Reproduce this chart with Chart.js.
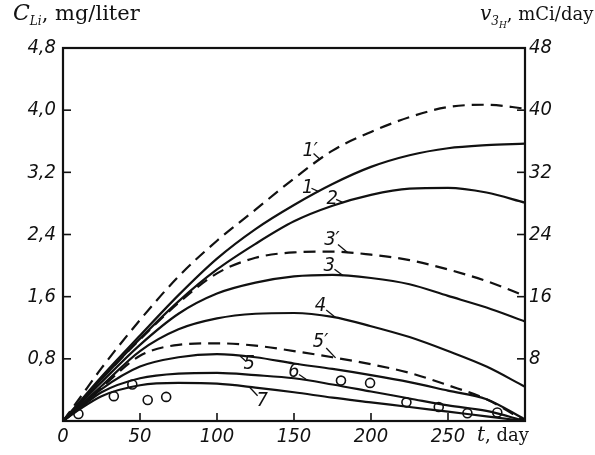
<!DOCTYPE html>
<html>
<head>
<meta charset="utf-8">
<script src="https://cdn.jsdelivr.net/npm/chart.js@4.4.1/dist/chart.umd.min.js"></script>
<style>
  body { margin: 0; background: #fff; }
  #wrap { position: relative; width: 595px; height: 455px; }
  .lbl { position: absolute; font-family: 'DejaVu Serif', 'Liberation Serif', serif; color: #111; white-space: nowrap; }
  .it { font-style: italic; }
  .sub { font-size: 12px; font-style: italic; position: relative; top: 5px; }
  .sub2 { font-size: 9px; position: relative; top: 3px; }
</style>
</head>
<body>
<div id="wrap">
  <canvas id="chart" width="595" height="455"></canvas>
  <div class="lbl" style="left:13px; top:0px; font-size:21px;"><span class="it" style="font-size:22px;">C</span><span class="sub">Li</span>, mg/liter</div>
  <div class="lbl" style="left:480px; top:1px; font-size:18px;"><span class="it" style="font-size:20px;">v</span><span class="sub">3<span class="sub2">H</span></span>, mCi/day</div>
  <div class="lbl" style="left:477px; top:422px; font-size:18px;"><span class="it" style="font-size:20px;">t</span>, day</div>
</div>
<script>
// time grid (days)
var days = [0, 10, 25, 50, 75, 100, 125, 150, 175, 200, 225, 250, 275, 300];

// C_Li, mg/liter for every curve
var curve1p = [0, 0.27, 0.68, 1.30, 1.86, 2.32, 2.72, 3.12, 3.48, 3.72, 3.91, 4.04, 4.07, 4.02];
var curve1  = [0, 0.23, 0.57, 1.10, 1.62, 2.09, 2.47, 2.78, 3.05, 3.27, 3.42, 3.51, 3.55, 3.57];
var curve2  = [0, 0.22, 0.54, 1.06, 1.54, 1.95, 2.28, 2.57, 2.77, 2.91, 2.99, 3.00, 2.94, 2.81];
var curve3p = [0, 0.22, 0.54, 1.05, 1.52, 1.90, 2.10, 2.17, 2.18, 2.14, 2.07, 1.95, 1.80, 1.61];
var curve3  = [0, 0.20, 0.50, 0.98, 1.38, 1.64, 1.78, 1.86, 1.88, 1.84, 1.76, 1.61, 1.46, 1.28];
var curve4  = [0, 0.18, 0.45, 0.90, 1.18, 1.32, 1.38, 1.39, 1.34, 1.22, 1.08, 0.90, 0.70, 0.44];
var curve5p = [0, 0.17, 0.43, 0.84, 0.98, 1.00, 0.97, 0.90, 0.82, 0.73, 0.62, 0.46, 0.28, 0.0];
var curve5  = [0, 0.16, 0.41, 0.70, 0.82, 0.86, 0.82, 0.74, 0.67, 0.59, 0.50, 0.39, 0.28, 0.02];
var curve6  = [0, 0.15, 0.37, 0.55, 0.61, 0.62, 0.59, 0.55, 0.47, 0.38, 0.29, 0.20, 0.13, 0.0];
var curve7  = [0, 0.14, 0.32, 0.46, 0.49, 0.48, 0.43, 0.37, 0.30, 0.24, 0.18, 0.12, 0.06, 0.0];

// measured points (open circles)
var obsDays   = [10, 33, 45, 55, 67, 180.5, 199.4, 223, 244, 262.6, 282];
var obsValues = [0.09, 0.32, 0.47, 0.27, 0.31, 0.52, 0.49, 0.24, 0.18, 0.10, 0.11];

// curve names and the day where each name points to its curve
var curveNames = ["1\u2032", "1", "2", "3\u2032", "3", "4", "5\u2032", "5", "6", "7"];
var labelDays  = [167, 166, 182, 185, 182, 177, 177, 115, 159, 121];

// axis ticks
var leftTicks  = [0, 0.8, 1.6, 2.4, 3.2, 4.0, 4.8];
var rightTicks = [0, 8, 16, 24, 32, 40, 48];
var dayTicks   = [0, 50, 100, 150, 200, 250, 300];

var curves = [curve1p, curve1, curve2, curve3p, curve3, curve4, curve5p, curve5, curve6, curve7];
var dashed = [true, false, false, true, false, false, true, false, false, false];

// text offset of each name from its curve point, and leader direction
var labelOffsets = [[-12, -11], [-13, -6], [-13, -6], [-18, -15], [-16, -12], [-17, -14], [-17, -18], [11, 10], [-16, -11], [15, 16]];

var fontFamily = "'Liberation Sans Narrow', 'DejaVu Sans Condensed', 'Liberation Sans', sans-serif";
var tickFont = { family: fontFamily, size: 20, style: 'italic' };

function toPoints(arr) {
  return arr.map(function(v, i) { return { x: days[i], y: v }; });
}

var datasets = [];
for (var i = 0; i < curves.length; i++) {
  datasets.push({
    label: curveNames[i],
    data: toPoints(curves[i]),
    borderColor: '#111',
    borderWidth: 2.2,
    borderDash: dashed[i] ? [12, 7] : [],
    pointRadius: 0,
    fill: false,
    cubicInterpolationMode: 'monotone'
  });
}
datasets.push({
  label: 'obs',
  type: 'scatter',
  data: obsDays.map(function(d, i) { return { x: d, y: obsValues[i] }; }),
  borderColor: '#111',
  backgroundColor: '#fff',
  borderWidth: 1.6,
  pointRadius: 4.5,
  showLine: false
});

// frame + inward tick marks
var framePlugin = {
  id: 'frame',
  afterDatasetsDraw: function(chart) {
    var ctx = chart.ctx;
    var a = chart.chartArea;
    ctx.save();
    ctx.strokeStyle = '#111';
    ctx.lineWidth = 2.2;
    ctx.strokeRect(a.left, a.top, a.right - a.left, a.bottom - a.top);
    ctx.lineWidth = 1.6;
    var len = 8;
    chart.scales.x.ticks.forEach(function(t) {
      if (t.value <= 0 || t.value >= 300) return;
      var px = chart.scales.x.getPixelForValue(t.value);
      ctx.beginPath(); ctx.moveTo(px, a.bottom); ctx.lineTo(px, a.bottom - len); ctx.stroke();
    });
    chart.scales.y.ticks.forEach(function(t) {
      if (t.value <= 0 || t.value >= 4.7) return;
      var py = chart.scales.y.getPixelForValue(t.value);
      ctx.beginPath(); ctx.moveTo(a.left, py); ctx.lineTo(a.left + len, py); ctx.stroke();
    });
    chart.scales.y1.ticks.forEach(function(t) {
      if (t.value <= 0 || t.value >= 47) return;
      var py = chart.scales.y1.getPixelForValue(t.value);
      ctx.beginPath(); ctx.moveTo(a.right, py); ctx.lineTo(a.right - len, py); ctx.stroke();
    });
    ctx.restore();
  }
};

// curve names with short leader strokes
var namesPlugin = {
  id: 'names',
  afterDatasetsDraw: function(chart) {
    var ctx = chart.ctx;
    var xs = chart.scales.x, ys = chart.scales.y;
    ctx.save();
    ctx.fillStyle = '#111';
    ctx.strokeStyle = '#111';
    ctx.lineWidth = 1.3;
    ctx.font = "italic 20px " + fontFamily;
    ctx.textAlign = 'center';
    ctx.textBaseline = 'middle';
    for (var i = 0; i < curveNames.length; i++) {
      var d = labelDays[i];
      var arr = curves[i];
      var k = 0;
      while (k < days.length - 2 && days[k + 1] < d) k++;
      var f = (d - days[k]) / (days[k + 1] - days[k]);
      var v = arr[k] + f * (arr[k + 1] - arr[k]);
      var px = xs.getPixelForValue(d), py = ys.getPixelForValue(v);
      var off = labelOffsets[i];
      ctx.beginPath();
      ctx.moveTo(px, py);
      ctx.lineTo(px + off[0] * 0.55, py + off[1] * 0.55);
      ctx.stroke();
      ctx.fillText(curveNames[i], px + off[0] - 2 * Math.sign(off[0]), py + off[1] - 2 * Math.sign(off[1]));
    }
    ctx.restore();
  }
};

new Chart(document.getElementById('chart'), {
  type: 'line',
  data: { datasets: datasets },
  options: {
    responsive: false,
    animation: false,
    layout: { padding: { top: 48, left: 0, right: 0, bottom: 0 } },
    plugins: { legend: { display: false }, tooltip: { enabled: false } },
    scales: {
      x: {
        type: 'linear',
        min: 0, max: 300,
        afterBuildTicks: function(scale) { scale.ticks = dayTicks.map(function(v) { return { value: v }; }); },
        afterFit: function(scale) { scale.height = 34; },
        grid: { display: false, drawTicks: false },
        border: { display: false },
        ticks: {
          padding: 4, maxRotation: 0, autoSkip: false, color: '#111', font: tickFont,
          callback: function(v) { return v === 300 ? '' : String(v); }
        }
      },
      y: {
        position: 'left',
        min: 0, max: 4.8,
        afterBuildTicks: function(scale) { scale.ticks = leftTicks.map(function(v) { return { value: v }; }); },
        afterFit: function(scale) { scale.width = 63; },
        grid: { display: false, drawTicks: false },
        border: { display: false },
        ticks: {
          padding: 7, color: '#111', font: tickFont,
          callback: function(v) { return v === 0 ? '' : v.toFixed(1).replace('.', ','); }
        }
      },
      y1: {
        position: 'right',
        min: 0, max: 48,
        afterBuildTicks: function(scale) { scale.ticks = rightTicks.map(function(v) { return { value: v }; }); },
        afterFit: function(scale) { scale.width = 70; },
        grid: { display: false, drawTicks: false },
        border: { display: false },
        ticks: {
          padding: 4, color: '#111', font: tickFont,
          callback: function(v) { return v === 0 ? '' : String(v); }
        }
      }
    }
  },
  plugins: [framePlugin, namesPlugin]
});
</script>
</body>
</html>
